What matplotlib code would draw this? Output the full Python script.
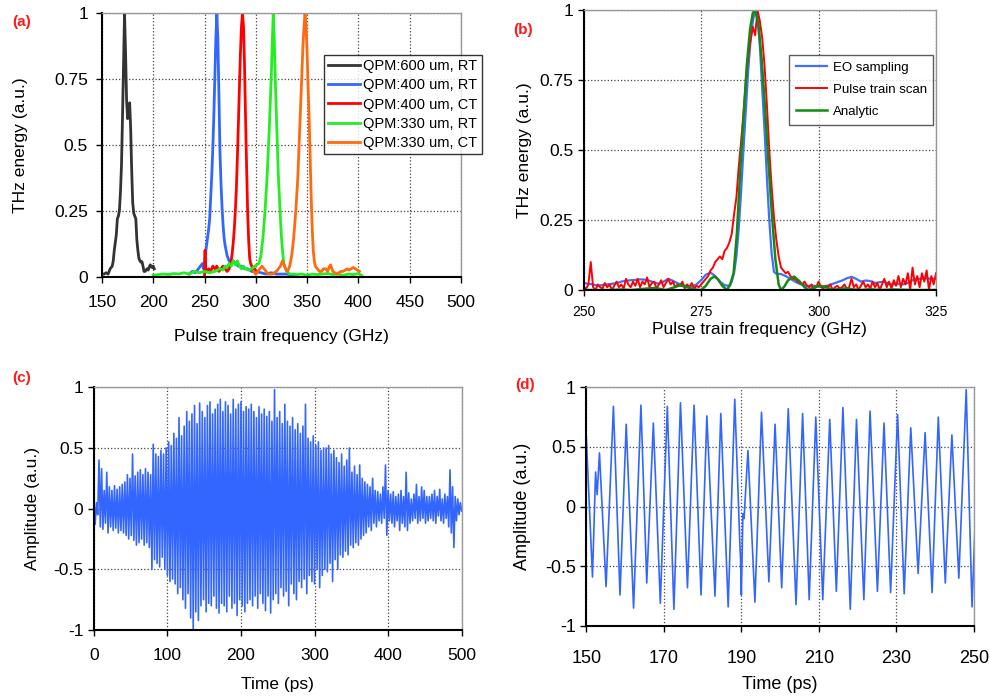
import numpy as np
import matplotlib.pyplot as plt

plt.rcParams['font.family'] = ['Liberation Sans', 'DejaVu Sans']

# ---------------- (a) datos ----------------
f_600rt = [150, 152, 154, 156, 158, 160, 161, 162, 164, 165, 166, 167, 168, 169, 170, 171, 172,
           173, 174, 175, 176, 177, 178, 179, 180, 181, 182, 183, 184, 185, 186, 187, 188, 189,
           190, 191, 192, 193, 194, 195, 196, 197, 198, 199, 200, 201]
e_600rt = [0.01, 0.01, 0.015, 0.01, 0.03, 0.04, 0.06, 0.1, 0.16, 0.22, 0.23, 0.25, 0.32, 0.42, 0.6, 0.8, 1.0,
           0.85, 0.67, 0.6, 0.62, 0.66, 0.56, 0.4, 0.28, 0.24, 0.23, 0.22, 0.14, 0.1, 0.07, 0.06, 0.055, 0.057,
           0.04, 0.02, 0.02, 0.025, 0.03, 0.025, 0.035, 0.045, 0.04, 0.035, 0.04, 0.03]

f_400rt = [235, 238, 241, 244, 246, 248, 249, 250, 251, 252, 253, 254, 255, 256, 257, 258, 259, 260,
           261, 262, 263, 264, 265, 266, 267, 268, 269, 270, 272, 274, 276, 278, 280, 283, 286, 289,
           292, 296, 300, 305, 310, 315, 320, 325, 330, 335, 340]
e_400rt = [0.01, 0.02, 0.015, 0.03, 0.04, 0.05, 0.03, 0.05, 0.09, 0.12, 0.15, 0.18, 0.22, 0.3, 0.38, 0.48, 0.6, 0.75,
           0.9, 1.0, 0.9, 0.7, 0.48, 0.36, 0.27, 0.2, 0.15, 0.12, 0.08, 0.06, 0.05, 0.06, 0.05, 0.04, 0.04, 0.03,
           0.03, 0.02, 0.02, 0.015, 0.01, 0.015, 0.01, 0.01, 0.01, 0.005, 0.005]

f_400ct = [250, 250.5, 251, 252, 254, 256, 258, 260, 262, 264, 266, 268, 270, 272, 274, 276, 277, 278,
           279, 280, 281, 282, 283, 284, 285, 286, 287, 288, 289, 290, 291, 292, 293, 294, 295, 296,
           297, 298, 299, 300, 301]
e_400ct = [0.0, 0.1, 0.03, 0.02, 0.03, 0.02, 0.04, 0.03, 0.04, 0.02, 0.03, 0.04, 0.03, 0.02, 0.03, 0.06, 0.09, 0.13,
           0.18, 0.25, 0.33, 0.45, 0.58, 0.72, 0.85, 0.95, 1.0, 0.95, 0.8, 0.6, 0.42, 0.25, 0.14, 0.07, 0.05, 0.04,
           0.03, 0.02, 0.03, 0.01, 0.02]

f_330rt = [200, 205, 210, 215, 220, 225, 230, 235, 240, 245, 250, 255, 260, 265, 268, 270, 272, 274,
           276, 278, 280, 282, 284, 286, 288, 290, 293, 296, 299, 301, 303, 305, 307, 309, 311, 313,
           315, 316, 317, 318, 319, 320, 321, 322, 323, 324, 325, 326, 327, 328, 330, 333, 336, 340,
           345, 350, 355, 360, 365, 370, 375, 380, 385, 390, 395, 400, 403]
e_330rt = [0.005, 0.008, 0.01, 0.008, 0.012, 0.01, 0.015, 0.01, 0.02, 0.015, 0.02, 0.015, 0.02, 0.03, 0.025, 0.04, 0.035, 0.05,
           0.04, 0.06, 0.045, 0.06, 0.04, 0.03, 0.04, 0.03, 0.025, 0.03, 0.04, 0.045, 0.05, 0.08, 0.15, 0.25, 0.38, 0.55,
           0.75, 0.88, 1.0, 0.9, 0.75, 0.62, 0.5, 0.38, 0.3, 0.22, 0.15, 0.1, 0.06, 0.04, 0.02, 0.01, 0.01, 0.008,
           0.01, 0.005, 0.01, 0.008, 0.01, 0.012, 0.008, 0.01, 0.005, 0.01, 0.008, 0.012, 0.005]

f_330ct = [298, 300, 302, 304, 306, 308, 310, 312, 314, 316, 318, 320, 322, 324, 326, 327, 329, 331,
           333, 335, 337, 339, 341, 343, 345, 346, 347, 348, 349, 350, 351, 352, 353, 354, 355, 356,
           357, 358, 360, 362, 364, 366, 368, 370, 372, 373, 375, 377, 379, 381, 383, 385, 387, 389,
           391, 393, 395, 397, 399, 401]
e_330ct = [0.02, 0.01, 0.02, 0.03, 0.04, 0.03, 0.02, 0.01, 0.01, 0.01, 0.015, 0.02, 0.03, 0.04, 0.06, 0.05, 0.03, 0.02,
           0.04, 0.08, 0.15, 0.25, 0.38, 0.58, 0.78, 0.88, 0.95, 1.0, 0.95, 0.85, 0.72, 0.6, 0.45, 0.3, 0.18, 0.1,
           0.06, 0.04, 0.03, 0.02, 0.02, 0.03, 0.03, 0.02, 0.04, 0.045, 0.02, 0.015, 0.01, 0.015, 0.02, 0.02, 0.025, 0.03,
           0.025, 0.03, 0.035, 0.03, 0.025, 0.02]

# ---------------- (b) datos ----------------
f_eo = [250, 251, 252, 253, 254, 255, 256, 257, 258, 259, 260, 261, 262, 263, 264, 265, 266, 267, 268,
        269, 270, 271, 272, 273, 274, 275, 276, 277, 278, 279, 280, 281, 281.5, 282, 282.5, 283, 283.5,
        284, 284.5, 285, 285.5, 286, 286.5, 287, 287.5, 288, 288.5, 289, 289.5, 290, 290.5, 291, 292,
        293, 294, 295, 296, 297, 298, 299, 300, 301, 302, 303, 304, 305, 306, 307, 308, 309, 310, 311,
        312, 313, 314, 315, 316, 317, 318, 319, 320, 321, 322, 323, 324, 325]
e_eo = [0.025, 0.022, 0.02, 0.015, 0.018, 0.02, 0.022, 0.025, 0.03, 0.033, 0.035, 0.036, 0.038, 0.037, 0.033, 0.027, 0.022, 0.03, 0.04,
        0.033, 0.024, 0.018, 0.013, 0.012, 0.02, 0.035, 0.055, 0.062, 0.05, 0.03, 0.017, 0.015, 0.03, 0.06, 0.12, 0.22, 0.35,
        0.5, 0.64, 0.78, 0.89, 0.96, 1.0, 0.97, 0.87, 0.72, 0.57, 0.4, 0.25, 0.13, 0.065, 0.058, 0.057,
        0.05, 0.04, 0.03, 0.022, 0.017, 0.015, 0.015, 0.013, 0.012, 0.016, 0.022, 0.028, 0.034, 0.042, 0.047, 0.04, 0.03, 0.034, 0.032,
        0.025, 0.028, 0.03, 0.022, 0.02, 0.022, 0.02, 0.025, 0.035, 0.04, 0.04, 0.042, 0.04, 0.04]

# pulse train scan, cada 0.5 GHz de 250 a 325
e_scan = [0.01, 0.005, 0.02, 0.10, 0.01, 0.0, 0.02, 0.01, 0.005, 0.025,
          0.01, 0.02, 0.0, 0.015, 0.03, 0.01, 0.02, 0.005, 0.04, 0.02,
          0.01, 0.03, 0.015, 0.04, 0.01, 0.03, 0.02, 0.045, 0.01, 0.025,
          0.03, 0.005, 0.02, 0.035, 0.01, 0.025, 0.04, 0.02, 0.03, 0.01,
          0.02, 0.015, 0.03, 0.005, 0.02, 0.01, 0.025, 0.005, 0.015, 0.01,
          0.02, 0.03, 0.04, 0.05, 0.07, 0.08, 0.10, 0.11, 0.12, 0.11,
          0.14, 0.15, 0.17, 0.20, 0.27, 0.33, 0.44, 0.53, 0.63, 0.74,
          0.83, 0.89, 0.94, 0.91, 1.0, 0.96, 0.90, 0.80, 0.66, 0.50,
          0.37, 0.26, 0.18, 0.12, 0.08, 0.07, 0.06, 0.065, 0.05, 0.04,
          0.04, 0.03, 0.025, 0.02, 0.03, 0.015, 0.01, 0.02, 0.005, 0.01,
          0.03, 0.01, 0.005, 0.015, 0.01, 0.02, 0.0, 0.01, 0.015, 0.005,
          0.01, 0.02, 0.005, 0.01, 0.04, 0.01, 0.02, 0.0, 0.015, 0.03,
          0.01, 0.02, 0.005, 0.03, 0.01, 0.025, 0.0, 0.02, 0.04, 0.01,
          0.03, 0.005, 0.035, 0.015, 0.05, 0.01, 0.04, 0.02, 0.06, 0.0,
          0.08, 0.02, 0.05, 0.01, 0.06, 0.03, 0.07, 0.0, 0.05, 0.02,
          0.06]
f_scan = np.linspace(250, 325, len(e_scan))

f_an = [250, 255, 258, 260, 262, 264, 265, 266, 267.5, 269, 270.5, 272, 273.5, 275, 276, 277, 277.8, 278.5,
        279.5, 280.5, 281.2, 281.9, 282.6, 283.3, 284.0, 284.7, 285.4, 286.0, 286.5, 287.2, 287.9, 288.6, 289.3,
        290.1, 290.8, 291.5, 292.0, 292.7, 293.5, 294.8, 296, 297, 297.9, 299, 300.5, 302, 303, 304.5, 306,
        307.5, 309, 311, 313, 316, 320, 325]
e_an = [0.0, 0.0, 0.002, 0.0, 0.003, 0.006, 0.007, 0.005, 0.0, 0.008, 0.017, 0.01, 0.002, 0.0, 0.015, 0.04, 0.048, 0.04,
        0.015, 0.0, 0.02, 0.06, 0.2, 0.42, 0.61, 0.8, 0.93, 0.99, 1.0, 0.95, 0.82, 0.65, 0.46,
        0.26, 0.11, 0.02, 0.0, 0.012, 0.035, 0.048, 0.03, 0.01, 0.0, 0.01, 0.015, 0.007, 0.0, 0.004, 0.006,
        0.002, 0.0, 0.003, 0.0, 0.002, 0.0, 0.0]

# ---------------- (c) datos: máximos y mínimos de cada ciclo ----------------
c_max = [0.07, 0.05, 0.40, 0.33, 0.15, 0.30, 0.18, 0.15, 0.19, 0.16,
         0.18, 0.20, 0.22, 0.28, 0.25, 0.45, 0.27, 0.30, 0.32, 0.28,
         0.33, 0.30, 0.28, 0.53, 0.45, 0.43, 0.48, 0.45, 0.50, 0.55,
         0.52, 0.62, 0.58, 0.75, 0.60, 0.68, 0.80, 0.72, 0.78, 0.85,
         0.70, 0.87, 0.80, 0.75, 0.85, 0.88, 0.78, 0.82, 0.86, 0.90,
         0.80, 0.88, 0.85, 0.78, 0.90, 0.82, 0.86, 0.88, 0.80, 0.84,
         0.82, 0.86, 0.80, 0.75, 0.84, 0.78, 0.82, 0.76, 0.80, 0.72,
         0.98, 0.75, 0.80, 0.70, 0.86, 0.72, 0.68, 0.75, 0.65, 0.70,
         0.62, 0.68, 0.86, 0.58, 0.55, 0.60, 0.52, 0.55, 0.48, 0.50,
         0.50, 0.52, 0.45, 0.48, 0.42, 0.38, 0.45, 0.35, 0.40, 0.50,
         0.30, 0.35, 0.28, 0.36, 0.25, 0.22, 0.20, 0.18, 0.25, 0.15,
         0.14, 0.12, 0.18, 0.36, 0.15, 0.12, 0.14, 0.10, 0.12, 0.15,
         0.10, 0.30, 0.13, 0.08, 0.12, 0.20, 0.10, 0.18, 0.15, 0.10,
         0.10, 0.12, 0.15, 0.10, 0.16, 0.08, 0.12, 0.10, 0.32, 0.18,
         0.10, 0.08, 0.05]
c_min = [-0.13, -0.05, -0.15, -0.17, -0.12, -0.20, -0.15, -0.18, -0.16, -0.20,
         -0.18, -0.20, -0.22, -0.25, -0.22, -0.26, -0.30, -0.28, -0.25, -0.30,
         -0.28, -0.32, -0.50, -0.42, -0.45, -0.48, -0.40, -0.50, -0.55, -0.60,
         -0.58, -0.62, -0.70, -0.65, -0.75, -0.82, -0.70, -0.90, -1.00, -0.85,
         -0.92, -0.80, -0.75, -0.85, -0.78, -0.80, -0.72, -0.82, -0.86, -0.78,
         -0.80, -0.85, -0.72, -0.82, -0.78, -0.88, -0.75, -0.80, -0.85, -0.78,
         -0.75, -0.80, -0.72, -0.82, -0.70, -0.78, -0.84, -0.72, -0.86, -0.75,
         -0.70, -0.78, -0.65, -0.72, -0.68, -0.80, -0.62, -0.70, -0.75, -0.60,
         -0.65, -0.58, -0.70, -0.55, -0.60, -0.62, -0.50, -0.65, -0.55, -0.50,
         -0.52, -0.45, -0.60, -0.42, -0.50, -0.38, -0.40, -0.35, -0.38, -0.30,
         -0.32, -0.28, -0.30, -0.25, -0.22, -0.20, -0.15, -0.18, -0.12, -0.15,
         -0.10, -0.12, -0.08, -0.22, -0.10, -0.12, -0.15, -0.10, -0.18, -0.12,
         -0.15, -0.18, -0.12, -0.10, -0.08, -0.12, -0.10, -0.08, -0.12, -0.10,
         -0.08, -0.10, -0.12, -0.06, -0.10, -0.12, -0.08, -0.15, -0.20, -0.32,
         -0.10, -0.05, -0.02]
amp_c = np.column_stack([c_max, c_min]).ravel()
t_c = np.linspace(0, 500, len(amp_c))

# ---------------- (d) datos ----------------
t_d = [150.0, 151.6, 152.4, 152.8, 153.4, 155.1, 157.0, 158.7, 160.3, 162.2, 164.1, 165.6, 167.3, 169.1,
       170.9, 172.6, 174.3, 176.1, 177.8, 179.6, 181.1, 183.2, 184.7, 186.6, 188.3, 189.6, 189.8, 190.0,
       190.4, 190.7, 191.7, 193.5, 195.2, 197.1, 198.7, 200.4, 202.1, 204.1, 205.8, 207.5, 209.2, 211.0,
       212.8, 214.5, 216.2, 218.1, 219.7, 221.6, 223.2, 225.1, 226.8, 228.5, 230.3, 232.0, 233.7, 235.6,
       237.4, 239.2, 240.8, 242.6, 244.3, 246.1, 248.0, 249.5, 250.3]
amp_d = [0.59, -0.59, 0.29, 0.10, 0.45, -0.67, 0.84, -0.74, 0.69, -0.85, 0.85, -0.64, 0.70, -0.81,
         0.84, -0.86, 0.87, -0.68, 0.85, -0.74, 0.76, -0.75, 0.78, -0.84, 0.90, -0.30, -0.45, -0.74,
         -0.06, -0.10, 0.47, -0.80, 0.79, -0.63, 0.69, -0.68, 0.82, -0.82, 0.78, -0.78, 0.75, -0.78,
         0.73, -0.71, 0.83, -0.86, 0.73, -0.78, 0.80, -0.71, 0.70, -0.72, 0.77, -0.73, 0.66, -0.56,
         0.62, -0.72, 0.75, -0.64, 0.60, -0.60, 0.98, -0.84, -0.14]

yt_e = [0, 0.25, 0.5, 0.75, 1]
yl_e = ['0', '0.25', '0.5', '0.75', '1']
yt_a = [-1, -0.5, 0, 0.5, 1]
yl_a = ['-1', '-0.5', '0', '0.5', '1']


def estilo(ax, fs):
    ax.grid(True, linestyle=':', color='#444444', linewidth=0.9)
    ax.set_axisbelow(True)
    for s in ['left', 'bottom']:
        ax.spines[s].set_color('black')
        ax.spines[s].set_linewidth(1.5)
    for s in ['top', 'right']:
        ax.spines[s].set_color('#999999')
        ax.spines[s].set_linewidth(1.0)
    ax.tick_params(direction='out', length=4, width=1, labelsize=fs)


fig = plt.figure(figsize=(9.9, 6.98), dpi=100)

# (a)
ax1 = fig.add_axes([0.1030, 0.6036, 0.3626, 0.3774])
ax1.plot(f_600rt, e_600rt, color='#333333', lw=2.0, label='QPM:600 um, RT')
ax1.plot(f_400rt, e_400rt, color='#3366ff', lw=2.0, label='QPM:400 um, RT')
ax1.plot(f_400ct, e_400ct, color='#ff0000', lw=2.0, label='QPM:400 um, CT')
ax1.plot(f_330rt, e_330rt, color='#22ee22', lw=2.0, label='QPM:330 um, RT')
ax1.plot(f_330ct, e_330ct, color='#ff6a10', lw=2.0, label='QPM:330 um, CT')
ax1.set_xlim(150, 500)
ax1.set_ylim(0, 1)
ax1.set_xticks(np.arange(150, 501, 50))
ax1.set_yticks(yt_e, yl_e)
estilo(ax1, 12.5)
ax1.tick_params(axis='x', pad=9)
ax1.tick_params(axis='y', pad=6)
ax1.set_xlabel('Pulse train frequency (GHz)', fontsize=12.5, labelpad=14)
ax1.set_ylabel('THz energy (a.u.)', fontsize=12.5, labelpad=19)
leg1 = ax1.legend(loc='upper left', bbox_to_anchor=(324 / 990, 1 - 55 / 698), bbox_transform=fig.transFigure,
                  fontsize=10.5, frameon=True, fancybox=False, edgecolor='black', handlelength=2.2,
                  handletextpad=0.2, borderpad=0.3, labelspacing=0.35, borderaxespad=0)
leg1.get_frame().set_linewidth(1.0)

# (b)
ax2 = fig.add_axes([0.5896, 0.5845, 0.3559, 0.4011])
ax2.plot(f_eo, e_eo, color='#3f6fff', lw=1.6, label='EO sampling')
ax2.plot(f_scan, e_scan, color='#ff0000', lw=1.4, label='Pulse train scan')
ax2.plot(f_an, e_an, color='#138a13', lw=1.8, label='Analytic')
ax2.set_xlim(250, 325)
ax2.set_ylim(0, 1)
ax2.set_xticks([250, 275, 300, 325])
ax2.set_yticks(yt_e, yl_e)
estilo(ax2, 12.5)
ax2.tick_params(axis='x', labelsize=10, pad=7)
ax2.set_xlabel('Pulse train frequency (GHz)', fontsize=12.5, labelpad=2)
ax2.set_ylabel('THz energy (a.u.)', fontsize=12.5, labelpad=5)
leg2 = ax2.legend(loc='upper left', bbox_to_anchor=(789 / 990, 1 - 55 / 698), bbox_transform=fig.transFigure,
                  fontsize=9.5, frameon=True, fancybox=False, edgecolor='#333333', handlelength=2.4,
                  handletextpad=0.4, borderpad=0.5, labelspacing=0.75, borderaxespad=0)
leg2.get_frame().set_linewidth(1.0)

# (c)
ax3 = fig.add_axes([0.0948, 0.0974, 0.3715, 0.3477])
ax3.plot(t_c, amp_c, color='#3366ff', lw=1.2)
ax3.set_xlim(0, 500)
ax3.set_ylim(-1, 1)
ax3.set_xticks(np.arange(0, 501, 100))
ax3.set_yticks(yt_a, yl_a)
estilo(ax3, 12.5)
ax3.tick_params(axis='x', pad=9)
ax3.set_xlabel('Time (ps)', fontsize=12.5, labelpad=10)
ax3.set_ylabel('Amplitude (a.u.)', fontsize=12.5, labelpad=10)

# (d)
ax4 = fig.add_axes([0.5922, 0.1032, 0.3916, 0.3420])
ax4.plot(t_d, amp_d, color='#3366ff', lw=1.2, solid_joinstyle='round')
ax4.set_xlim(150, 250)
ax4.set_ylim(-1, 1)
ax4.set_xticks(np.arange(150, 251, 20))
ax4.set_yticks(yt_a, yl_a)
estilo(ax4, 13)
ax4.tick_params(axis='x', pad=13)
ax4.set_xlabel('Time (ps)', fontsize=13, labelpad=7)
ax4.set_ylabel('Amplitude (a.u.)', fontsize=13, labelpad=10)

# etiquetas de panel
for x, y, s in [(12, 22, '(a)'), (513, 30, '(b)'), (12, 378, '(c)'), (515, 385, '(d)')]:
    fig.text(x / 990, 1 - y / 698, s, color='#ff1a1a', fontsize=11, fontweight='bold', va='center')

plt.savefig('out.png', dpi=100)
